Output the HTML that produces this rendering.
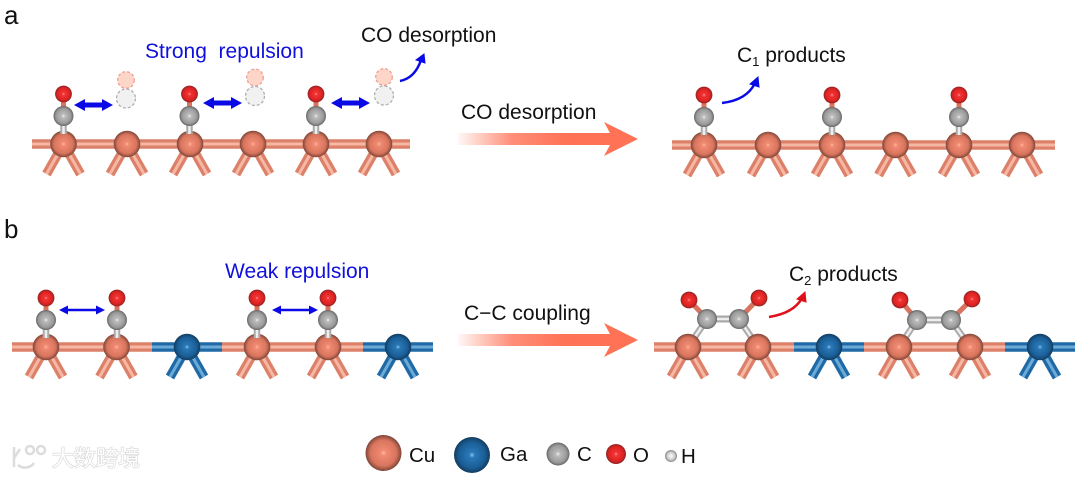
<!DOCTYPE html>
<html>
<head>
<meta charset="utf-8">
<style>
html,body{margin:0;padding:0;background:#fff;}
svg{display:block;}
text{font-family:"Liberation Sans","Noto Sans CJK SC",sans-serif;fill:#111;}
</style>
</head>
<body>
<svg width="1080" height="478" viewBox="0 0 1080 478" xmlns="http://www.w3.org/2000/svg">
<defs>
<radialGradient id="gcu"><stop offset="0" stop-color="#ffb8a4"/><stop offset="0.16" stop-color="#f08a72"/><stop offset="0.72" stop-color="#d9745d"/><stop offset="1" stop-color="#7d4638"/></radialGradient>
<radialGradient id="gga"><stop offset="0" stop-color="#86c4f2"/><stop offset="0.16" stop-color="#2a78b8"/><stop offset="0.72" stop-color="#1a5e96"/><stop offset="1" stop-color="#123c60"/></radialGradient>
<radialGradient id="gc"><stop offset="0" stop-color="#f6f6f6"/><stop offset="0.18" stop-color="#bcbcbc"/><stop offset="0.75" stop-color="#9a9a9a"/><stop offset="1" stop-color="#666"/></radialGradient>
<radialGradient id="go"><stop offset="0" stop-color="#ff9c9c"/><stop offset="0.18" stop-color="#f23434"/><stop offset="0.75" stop-color="#dc2222"/><stop offset="1" stop-color="#8a2424"/></radialGradient>
<radialGradient id="gh"><stop offset="0" stop-color="#fff"/><stop offset="0.6" stop-color="#d0d0d0"/><stop offset="1" stop-color="#888"/></radialGradient>
<linearGradient id="garrow" x1="0" x2="1" y1="0" y2="0"><stop offset="0" stop-color="#ff7256" stop-opacity="0.05"/><stop offset="0.3" stop-color="#ff7256" stop-opacity="0.8"/><stop offset="0.6" stop-color="#ff7256"/><stop offset="1" stop-color="#ff7256"/></linearGradient>

<g id="lc">
  <line x1="0" y1="0" x2="-17" y2="30" stroke="#dd8069" stroke-width="9.5"/>
  <line x1="0" y1="0" x2="17" y2="30" stroke="#dd8069" stroke-width="9.5"/>
  <line x1="0" y1="0" x2="-17" y2="30" stroke="#f6b8a4" stroke-width="3"/>
  <line x1="0" y1="0" x2="17" y2="30" stroke="#f6b8a4" stroke-width="3"/>
</g>
<g id="lg">
  <line x1="0" y1="0" x2="-17" y2="30" stroke="#1f6aa6" stroke-width="9.5"/>
  <line x1="0" y1="0" x2="17" y2="30" stroke="#1f6aa6" stroke-width="9.5"/>
  <line x1="0" y1="0" x2="-17" y2="30" stroke="#6cabd8" stroke-width="3"/>
  <line x1="0" y1="0" x2="17" y2="30" stroke="#6cabd8" stroke-width="3"/>
</g>
<g id="cu"><use href="#lc"/><circle r="13.3" fill="url(#gcu)"/></g>
<g id="ga"><use href="#lg"/><circle r="13.3" fill="url(#gga)"/></g>
<g id="co">
  <line x1="0" y1="-50" x2="0" y2="-28" stroke="#d8735f" stroke-width="5"/>
  <line x1="0" y1="-28" x2="0" y2="-10" stroke="#aaa" stroke-width="6.5"/>
  <line x1="0" y1="-28" x2="0" y2="-10" stroke="#eee" stroke-width="2.5"/>
  <circle cx="0" cy="-50" r="8.4" fill="url(#go)"/>
  <circle cx="0" cy="-28" r="10" fill="url(#gc)"/>
</g>
<g id="ghost">
  <circle cx="0" cy="0" r="8.3" fill="#fdd5c9" stroke="#f0a090" stroke-width="1.3" stroke-dasharray="3 2"/>
  <circle cx="0" cy="18.5" r="9.5" fill="#f1f1f1" stroke="#b0b0b0" stroke-width="1.3" stroke-dasharray="3 2"/>
</g>
<g id="dblB"><path d="M0 0 L11 -6 V-2.5 H28 V-6 L39 0 L28 6 V2.5 H11 V6 Z" fill="#0a0ae6"/></g>
<g id="dblT"><path d="M0 0 L9 -4.5 V-1.2 H37 V-4.5 L46 0 L37 4.5 V1.2 H9 V4.5 Z" fill="#0a0ae6"/></g>
<g id="bigArrow"><path d="M0 -6 H152 L146 -17 L180 0 L146 17 L152 6 H0 Z" fill="url(#garrow)"/></g>
</defs>

<text x="4" y="24" font-size="26">a</text>
<text x="4" y="238" font-size="26">b</text>

<!-- panel a left -->
<g>
  <line x1="32" y1="144" x2="410" y2="144" stroke="#dd8069" stroke-width="9.5"/>
  <line x1="32" y1="144" x2="410" y2="144" stroke="#f6b8a4" stroke-width="3"/>
  <use href="#cu" x="63.5" y="144"/><use href="#cu" x="127" y="144"/><use href="#cu" x="190" y="144"/>
  <use href="#cu" x="253" y="144"/><use href="#cu" x="316" y="144"/><use href="#cu" x="379" y="144"/>
  <use href="#co" x="63.5" y="144"/><use href="#co" x="189.5" y="144"/><use href="#co" x="316" y="144"/>
  <use href="#ghost" x="126" y="80"/><use href="#ghost" x="255" y="77.5"/><use href="#ghost" x="384" y="77"/>
  <use href="#dblB" x="74" y="105"/><use href="#dblB" x="203" y="103"/><use href="#dblB" x="331" y="103"/>
  <path d="M400 81 Q415 78 421 60" fill="none" stroke="#0a0ae6" stroke-width="2.5"/>
  <path d="M424 54 L425 63 L416 60 Z" fill="#0a0ae6" stroke="#0a0ae6"/>
</g>
<text x="145" y="58" font-size="21" style="fill:#1010dc" xml:space="preserve">Strong  repulsion</text>
<text x="361" y="42" font-size="21">CO desorption</text>

<!-- big arrows -->
<use href="#bigArrow" x="458" y="139"/>
<text x="461" y="119" font-size="21">CO desorption</text>
<use href="#bigArrow" x="458" y="340"/>
<text x="464" y="320" font-size="21">C−C coupling</text>

<!-- panel a right -->
<g>
  <line x1="672" y1="145" x2="1055" y2="145" stroke="#dd8069" stroke-width="9.5"/>
  <line x1="672" y1="145" x2="1055" y2="145" stroke="#f6b8a4" stroke-width="3"/>
  <use href="#cu" x="704" y="145"/><use href="#cu" x="768" y="145"/><use href="#cu" x="832" y="145"/>
  <use href="#cu" x="895.5" y="145"/><use href="#cu" x="959" y="145"/><use href="#cu" x="1022" y="145"/>
  <use href="#co" x="704" y="145"/><use href="#co" x="832" y="145"/><use href="#co" x="959" y="145"/>
  <path d="M722 103 Q747 100 755 83" fill="none" stroke="#0a0ae6" stroke-width="2.5"/>
  <path d="M758 77 L759 87 L750 84 Z" fill="#0a0ae6" stroke="#0a0ae6"/>
</g>
<text x="737" y="62" font-size="21">C<tspan font-size="13" dy="4">1</tspan><tspan dy="-4"> products</tspan></text>

<!-- panel b left -->
<g>
  <line x1="12" y1="347" x2="152" y2="347" stroke="#dd8069" stroke-width="9.5"/>
  <line x1="152" y1="347" x2="222" y2="347" stroke="#1f6aa6" stroke-width="9.5"/>
  <line x1="222" y1="347" x2="363" y2="347" stroke="#dd8069" stroke-width="9.5"/>
  <line x1="363" y1="347" x2="433" y2="347" stroke="#1f6aa6" stroke-width="9.5"/>
  <line x1="12" y1="347" x2="152" y2="347" stroke="#f6b8a4" stroke-width="3"/>
  <line x1="152" y1="347" x2="222" y2="347" stroke="#6cabd8" stroke-width="3"/>
  <line x1="222" y1="347" x2="363" y2="347" stroke="#f6b8a4" stroke-width="3"/>
  <line x1="363" y1="347" x2="433" y2="347" stroke="#6cabd8" stroke-width="3"/>
  <use href="#cu" x="46" y="347"/><use href="#cu" x="116.5" y="347"/><use href="#ga" x="187" y="347"/>
  <use href="#cu" x="257" y="347"/><use href="#cu" x="328" y="347"/><use href="#ga" x="398" y="347"/>
  <use href="#co" x="46" y="348"/><use href="#co" x="117" y="348"/><use href="#co" x="257" y="348"/><use href="#co" x="328" y="348"/>
  <use href="#dblT" x="59" y="310"/><use href="#dblT" x="272" y="310"/>
</g>
<text x="225" y="278" font-size="21" style="fill:#1010dc">Weak repulsion</text>

<!-- panel b right -->
<g>
  <line x1="654" y1="347" x2="794" y2="347" stroke="#dd8069" stroke-width="9.5"/>
  <line x1="794" y1="347" x2="864" y2="347" stroke="#1f6aa6" stroke-width="9.5"/>
  <line x1="864" y1="347" x2="1005" y2="347" stroke="#dd8069" stroke-width="9.5"/>
  <line x1="1005" y1="347" x2="1075" y2="347" stroke="#1f6aa6" stroke-width="9.5"/>
  <line x1="654" y1="347" x2="794" y2="347" stroke="#f6b8a4" stroke-width="3"/>
  <line x1="794" y1="347" x2="864" y2="347" stroke="#6cabd8" stroke-width="3"/>
  <line x1="864" y1="347" x2="1005" y2="347" stroke="#f6b8a4" stroke-width="3"/>
  <line x1="1005" y1="347" x2="1075" y2="347" stroke="#6cabd8" stroke-width="3"/>
  <g fill="none" stroke="#aaa" stroke-width="6.5">
    <path d="M688 347 L707 319"/><path d="M758 347 L739 319"/><path d="M899 347 L917 320"/><path d="M970 347 L951 320"/>
    <path d="M707 319 H739" stroke-width="7"/><path d="M917 320 H951" stroke-width="7"/>
  </g>
  <g fill="none" stroke="#eee" stroke-width="2.5">
    <path d="M688 347 L707 319"/><path d="M758 347 L739 319"/><path d="M899 347 L917 320"/><path d="M970 347 L951 320"/>
    <path d="M707 319 H739"/><path d="M917 320 H951"/>
  </g>
  <g fill="none" stroke="#d8735f" stroke-width="5">
    <path d="M689 300 L707 319"/><path d="M759 298 L739 319"/><path d="M900 300 L917 320"/><path d="M972 299 L951 320"/>
  </g>
  <use href="#cu" x="688" y="347"/><use href="#cu" x="758" y="347"/><use href="#ga" x="829" y="347"/>
  <use href="#cu" x="899" y="347"/><use href="#cu" x="970" y="347"/><use href="#ga" x="1040" y="347"/>
  <circle cx="707" cy="319" r="10" fill="url(#gc)"/><circle cx="739" cy="319" r="10" fill="url(#gc)"/>
  <circle cx="917" cy="320" r="10" fill="url(#gc)"/><circle cx="951" cy="320" r="10" fill="url(#gc)"/>
  <circle cx="689" cy="300" r="8.4" fill="url(#go)"/><circle cx="759" cy="298" r="8.4" fill="url(#go)"/>
  <circle cx="900" cy="300" r="8.4" fill="url(#go)"/><circle cx="972" cy="299" r="8.4" fill="url(#go)"/>
  <path d="M769 317 Q794 313 802 298" fill="none" stroke="#e0101a" stroke-width="2.5"/>
  <path d="M805 292 L806 302 L797 299 Z" fill="#e0101a" stroke="#e0101a"/>
</g>
<text x="789" y="281" font-size="21">C<tspan font-size="13" dy="4">2</tspan><tspan dy="-4"> products</tspan></text>

<!-- legend -->
<circle cx="383.5" cy="453" r="18" fill="url(#gcu)"/>
<text x="409" y="462" font-size="20.5">Cu</text>
<circle cx="472" cy="455" r="18" fill="url(#gga)"/>
<text x="500" y="461" font-size="20.5">Ga</text>
<circle cx="558" cy="454" r="11.5" fill="url(#gc)"/>
<text x="577" y="461" font-size="20.5">C</text>
<circle cx="616" cy="454" r="10" fill="url(#go)"/>
<text x="633" y="462" font-size="20.5">O</text>
<circle cx="671" cy="456" r="6" fill="url(#gh)"/>
<text x="681" y="463" font-size="20.5">H</text>

<!-- watermark -->
<g fill="none" stroke="#dcdcdc" stroke-width="2.5">
  <path d="M14 447 V467"/><path d="M14 458 L20 449"/>
  <path d="M34 463 A11 11 0 0 1 18 465"/>
  <circle cx="30" cy="450" r="4"/><circle cx="41" cy="450" r="4"/>
</g>
<text x="52" y="466" font-size="22" style="fill:#fff;stroke:#d4d4d4;stroke-width:1.2;paint-order:stroke">大数跨境</text>
</svg>
</body>
</html>
